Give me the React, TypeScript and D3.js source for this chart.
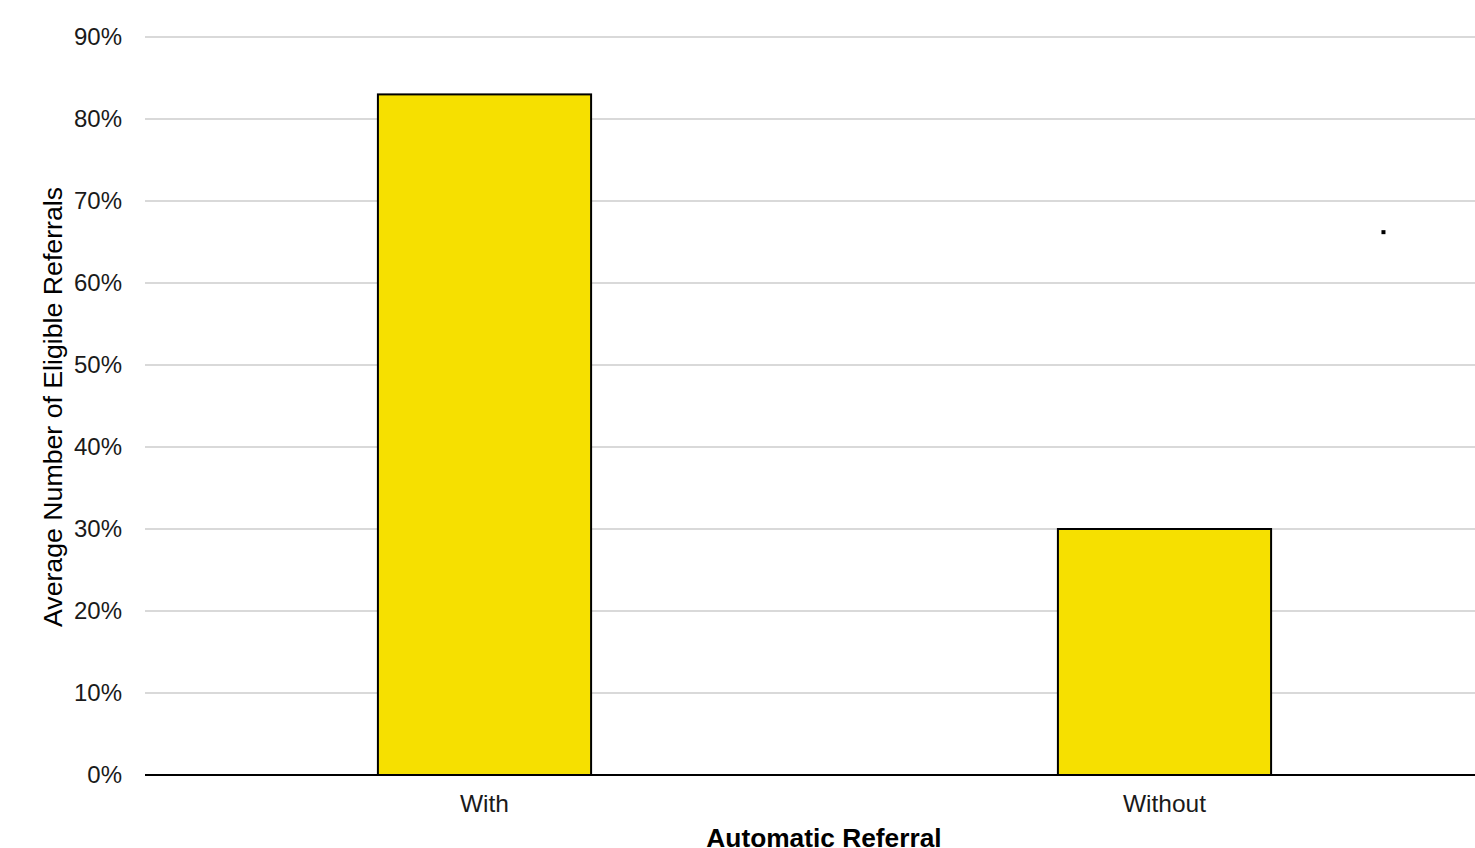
import React from "react";
import * as d3 from "d3";

// Share of eligible referrals by automatic-referral status
const categories: string[] = ["With", "Without"];
const values: number[] = [0.83, 0.3];
const yTicks: number[] = [0, 0.1, 0.2, 0.3, 0.4, 0.5, 0.6, 0.7, 0.8, 0.9];
const yTitle = "Average Number of Eligible Referrals";
const xTitle = "Automatic Referral";
// stray marker point in the plot area: [x fraction across band range, y value]
const strayMarker: [number, number] = [0.911, 0.662];

const W = 1475;
const H = 848;
const FONT = "'Liberation Sans', Arial, Helvetica, sans-serif";

export default function App() {
  const x = d3
    .scaleBand<string>()
    .domain(categories)
    .range([144.5, 1504.5])
    .padding(0);
  const y = d3.scaleLinear().domain([0, 0.9]).range([775, 37]);
  const barW = x.bandwidth() * 0.3135;
  const fmt = d3.format(".0%");
  const plotLeft = 145;
  const plotRight = W;
  const markerX = d3.scaleLinear().domain([0, 1]).range([144.5, 1504.5]);

  return (
    <svg
      width={W}
      height={H}
      style={{ position: "absolute", left: 0, top: 0, display: "block", background: "#fff" }}
      fontFamily={FONT}
    >
      {/* gridlines */}
      {yTicks.slice(1).map((t) => (
        <line
          key={t}
          x1={plotLeft}
          x2={plotRight}
          y1={y(t)}
          y2={y(t)}
          stroke="#d9d9d9"
          strokeWidth={2}
        />
      ))}
      {/* y tick labels */}
      {yTicks.map((t) => (
        <text
          key={"l" + t}
          x={122}
          y={y(t)}
          dy="0.35em"
          textAnchor="end"
          fontSize={24}
          fill="#1a1a1a"
        >
          {fmt(t)}
        </text>
      ))}
      {/* bars */}
      {categories.map((c, i) => {
        const cx = (x(c) as number) + x.bandwidth() / 2;
        return (
          <rect
            key={c}
            x={cx - barW / 2}
            y={y(values[i])}
            width={barW}
            height={y(0) - y(values[i])}
            fill="#f6e000"
            stroke="#000"
            strokeWidth={2}
          />
        );
      })}
      {/* baseline axis */}
      <line x1={plotLeft} x2={plotRight} y1={y(0)} y2={y(0)} stroke="#000" strokeWidth={2} />
      {/* category labels */}
      {categories.map((c) => (
        <text
          key={"c" + c}
          x={(x(c) as number) + x.bandwidth() / 2}
          y={812}
          textAnchor="middle"
          fontSize={24.5}
          fill="#1a1a1a"
        >
          {c}
        </text>
      ))}
      {/* stray marker */}
      <rect
        x={markerX(strayMarker[0]) - 2}
        y={y(strayMarker[1]) - 2}
        width={4}
        height={4}
        fill="#000"
      />
      {/* axis titles */}
      <text
        transform={`translate(62, 407) rotate(-90)`}
        textAnchor="middle"
        fontSize={26.7}
        fill="#000"
      >
        {yTitle}
      </text>
      <text x={824} y={847} textAnchor="middle" fontSize={26.3} fontWeight="bold" fill="#000">
        {xTitle}
      </text>
    </svg>
  );
}
